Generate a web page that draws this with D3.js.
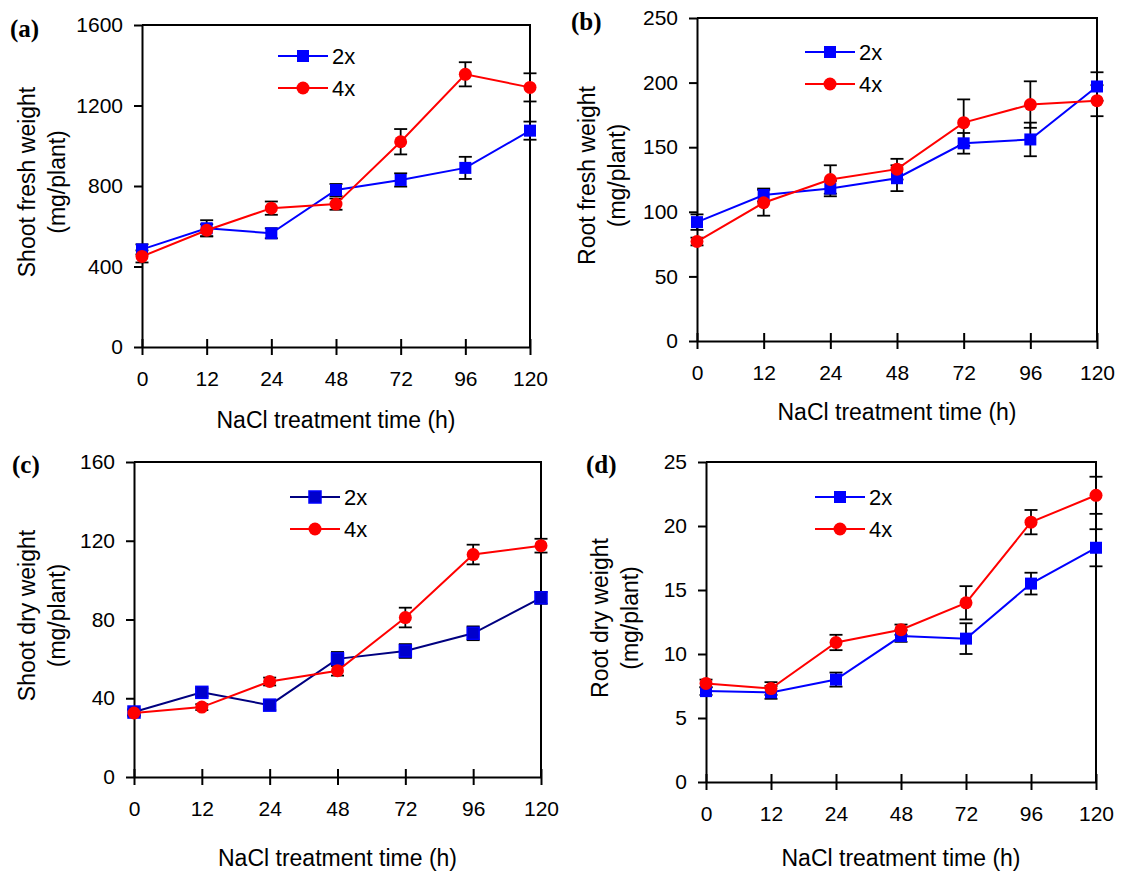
<!DOCTYPE html>
<html>
<head>
<meta charset="utf-8">
<script src="https://cdn.jsdelivr.net/npm/d3@7"></script>
<style>
  body { margin: 0; background: #fff; }
  svg text { font-family: "Liberation Sans", Arial, sans-serif; }
  svg text.tag { font-family: "Liberation Serif", "Times New Roman", serif; font-weight: bold; }
</style>
</head>
<body>
<div id="container"></div>
<script>
const times = ["0", "12", "24", "48", "72", "96", "120"]

// (a) shoot fresh weight
const shootFresh2x = [485, 590, 565, 780, 830, 890, 1075]
const shootFresh2xErr = [25, 40, 25, 30, 33, 55, 45]
const shootFresh4x = [450, 580, 690, 710, 1020, 1355, 1290]
const shootFresh4xErr = [30, 30, 33, 28, 63, 60, 70]
const shootFreshTicks = [0, 400, 800, 1200, 1600]

// (b) root fresh weight
const rootFresh2x = [92, 113, 118, 126, 153, 156, 197]
const rootFresh2xErr = [6, 5, 6, 10, 8, 13, 11]
const rootFresh4x = [77, 107, 125, 133, 169, 183, 186]
const rootFresh4xErr = [3, 10, 11, 8, 18, 18, 12]
const rootFreshTicks = [0, 50, 100, 150, 200, 250]

// (c) shoot dry weight
const shootDry2x = [33, 43, 36.5, 60, 64, 73, 91]
const shootDry2xErr = [1.5, 2, 2.5, 3.5, 3.5, 3.5, 3]
const shootDry4x = [32.5, 35.5, 48.5, 54, 81, 113, 117.5]
const shootDry4xErr = [1.5, 1.5, 2, 2.5, 5, 5, 3.5]
const shootDryTicks = [0, 40, 80, 120, 160]

// (d) root dry weight
const rootDry2x = [7.1, 7.0, 8.0, 11.4, 11.2, 15.5, 18.3]
const rootDry2xErr = [0.3, 0.5, 0.55, 0.45, 1.2, 0.85, 1.45]
const rootDry4x = [7.7, 7.3, 10.9, 11.9, 14.0, 20.3, 22.4]
const rootDry4xErr = [0.3, 0.5, 0.6, 0.4, 1.3, 0.95, 1.45]
const rootDryTicks = [0, 5, 10, 15, 20, 25]

const w = 1121
const h = 871

const panels = [
    { tag: "(a)", tagX: 10, tagY: 37, left: 142, right: 530, top: 25, bottom: 347, max: 1600, ticks: shootFreshTicks,
      title: ["Shoot fresh weight", "(mg/plant)"], titleX: [27, 57], xTitleY: 428,
      s2: shootFresh2x, e2: shootFresh2xErr, s4: shootFresh4x, e4: shootFresh4xErr,
      c2: "#0000ff", m2: "#0000ff", legX: 278, legY: 56 },
    { tag: "(b)", tagX: 571, tagY: 30, left: 697, right: 1097, top: 18, bottom: 341, max: 250, ticks: rootFreshTicks,
      title: ["Root fresh weight", "(mg/plant)"], titleX: [587, 617], xTitleY: 420,
      s2: rootFresh2x, e2: rootFresh2xErr, s4: rootFresh4x, e4: rootFresh4xErr,
      c2: "#0000ff", m2: "#0000ff", legX: 805, legY: 52 },
    { tag: "(c)", tagX: 12, tagY: 473, left: 134, right: 541, top: 462, bottom: 777, max: 160, ticks: shootDryTicks,
      title: ["Shoot dry weight", "(mg/plant)"], titleX: [27, 57], xTitleY: 866,
      s2: shootDry2x, e2: shootDry2xErr, s4: shootDry4x, e4: shootDry4xErr,
      c2: "#000080", m2: "#0000cc", legX: 290, legY: 497 },
    { tag: "(d)", tagX: 586, tagY: 473, left: 706, right: 1096, top: 462, bottom: 782, max: 25, ticks: rootDryTicks,
      title: ["Root dry weight", "(mg/plant)"], titleX: [600, 630], xTitleY: 866,
      s2: rootDry2x, e2: rootDry2xErr, s4: rootDry4x, e4: rootDry4xErr,
      c2: "#0000ff", m2: "#0000ff", legX: 815, legY: 497 }
]

const svg = d3.select("#container")
    .append("svg")
    .attr("width", w)
    .attr("height", h)

panels.forEach(p => {
    const g = svg.append("g")

    const x = d3.scalePoint().domain(times).range([p.left, p.right])
    const y = d3.scaleLinear().domain([0, p.max]).range([p.bottom, p.top])

    // frame top + right
    g.append("path")
        .attr("d", `M${p.left},${p.top}H${p.right}V${p.bottom}`)
        .attr("fill", "none")
        .attr("stroke", "#000")
        .attr("stroke-width", 2)

    const yAxis = g.append("g")
        .attr("transform", `translate(${p.left},0)`)
        .call(d3.axisLeft(y).tickValues(p.ticks).tickFormat(d3.format("d")).tickSize(8).tickSizeOuter(0).tickPadding(11))
    yAxis.selectAll("text").attr("font-size", 21).attr("fill", "#000")

    const xAxis = g.append("g")
        .attr("transform", `translate(0,${p.bottom})`)
        .call(d3.axisBottom(x).tickSize(8).tickSizeOuter(0).tickPadding(16))
    xAxis.selectAll(".tick line").attr("y1", -8).attr("y2", 8)
    xAxis.selectAll("text").attr("font-size", 21).attr("fill", "#000")

    g.selectAll(".domain, .tick line").attr("stroke", "#000").attr("stroke-width", 2)

    // titles
    g.append("text")
        .attr("x", (p.left + p.right) / 2)
        .attr("y", p.xTitleY)
        .attr("text-anchor", "middle")
        .attr("font-size", 23)
        .text("NaCl treatment time (h)")

    const cy = (p.top + p.bottom) / 2 - 4
    p.title.forEach((t, i) => {
        g.append("text")
            .attr("transform", `translate(${p.titleX[i] + 8},${cy}) rotate(-90)`)
            .attr("text-anchor", "middle")
            .attr("font-size", 23)
            .text(t)
    })

    g.append("text")
        .attr("class", "tag")
        .attr("x", p.tagX)
        .attr("y", p.tagY)
        .attr("font-size", 25)
        .text(p.tag)

    const series = [
        { v: p.s2, e: p.e2, color: p.c2, fill: p.m2, shape: "square", name: "2x" },
        { v: p.s4, e: p.e4, color: "#ff0000", fill: "#ff0000", shape: "circle", name: "4x" }
    ]

    // error bars
    series.forEach(s => {
        const eb = g.append("g")
        s.v.forEach((v, i) => {
            const cx = x(times[i])
            const y1 = y(v + s.e[i]), y2 = y(v - s.e[i])
            eb.append("line").attr("x1", cx).attr("x2", cx).attr("y1", y1).attr("y2", y2)
            eb.append("line").attr("x1", cx - 6.5).attr("x2", cx + 6.5).attr("y1", y1).attr("y2", y1)
            eb.append("line").attr("x1", cx - 6.5).attr("x2", cx + 6.5).attr("y1", y2).attr("y2", y2)
        })
        eb.selectAll("line").attr("stroke", "#000").attr("stroke-width", 1.8)
    })

    // lines and markers
    const line = d3.line().x((d, i) => x(times[i])).y(d => y(d))
    series.forEach(s => {
        g.append("path")
            .datum(s.v)
            .attr("d", line)
            .attr("fill", "none")
            .attr("stroke", s.color)
            .attr("stroke-width", 2)
        drawMarkers(g, s, s.v.map((v, i) => [x(times[i]), y(v)]))
    })

    // legend
    series.forEach((s, k) => {
        const ly = p.legY + k * 32
        g.append("line")
            .attr("x1", p.legX).attr("x2", p.legX + 50)
            .attr("y1", ly).attr("y2", ly)
            .attr("stroke", s.color).attr("stroke-width", 2)
        drawMarkers(g, s, [[p.legX + 25, ly]])
        g.append("text")
            .attr("x", p.legX + 54)
            .attr("y", ly + 8)
            .attr("font-size", 22)
            .text(s.name)
    })
})

function drawMarkers(g, s, pts) {
    if (s.shape === "square") {
        g.selectAll(null).data(pts).enter().append("rect")
            .attr("x", d => d[0] - 6).attr("y", d => d[1] - 6)
            .attr("width", 12).attr("height", 12)
            .attr("fill", s.fill)
            .attr("stroke", s.color === "#000080" ? "#0000ff" : "none")
            .attr("stroke-width", 1.5)
    } else {
        g.selectAll(null).data(pts).enter().append("circle")
            .attr("cx", d => d[0]).attr("cy", d => d[1])
            .attr("r", 6.5)
            .attr("fill", s.fill)
    }
}
</script>
</body>
</html>
